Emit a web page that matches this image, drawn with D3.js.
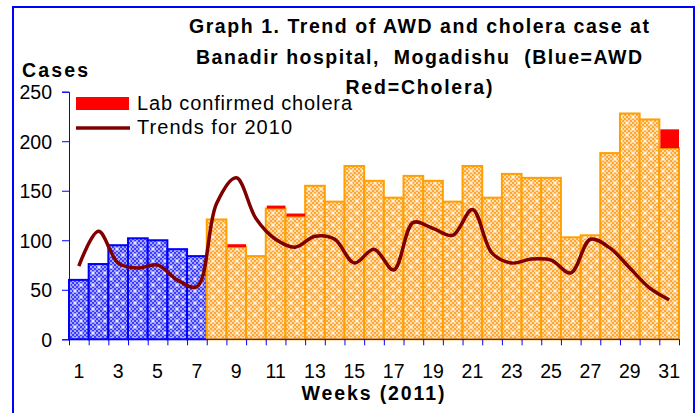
<!DOCTYPE html>
<html>
<head>
<meta charset="utf-8">
<script src="https://cdn.jsdelivr.net/npm/d3@7"></script>
<style>
  body { margin: 0; background: #fff; }
  text { font-family: 'Liberation Sans', Arial, sans-serif; }
</style>
</head>
<body>
<div id="chart"></div>
<script>
// weeks of 2011
var weeks = d3.range(1, 32);
// total AWD cases per week (bar height incl. cholera)
var totalCases = [60, 76, 95, 102, 100, 91, 84, 121, 96, 84, 135, 127, 155, 139, 175, 160,
	143, 165, 160, 139, 175, 143, 167, 163, 163, 103, 105, 188, 228, 222, 212];
// lab confirmed cholera (red top of bar)
var cholera = [0, 0, 0, 0, 0, 0, 0, 0, 3, 0, 3, 3, 0, 0, 0, 0,
	0, 0, 0, 0, 0, 0, 0, 0, 0, 0, 0, 0, 0, 0, 19];
// trend line for 2010
var trend2010 = [74, 109, 77, 72, 75, 60, 53, 137, 163, 122, 101, 93, 104, 101, 77, 91,
	70, 118, 112, 105, 131, 87, 77, 81, 80, 67, 101, 92, 72, 52, 40];
var blueWeeks = 7; // first weeks drawn in blue
var yTicks = [0, 50, 100, 150, 200, 250];
var xLabels = d3.range(1, 32, 2);

var width = 697;
var height = 413;

var svg = d3.select('#chart')
	.append('svg')
	.attr('width', width)
	.attr('height', height);

/* patterns: 2px checker dither + white sparkles */
var defs = svg.append('defs');
function makePattern(id, dark, light) {
	var p = defs.append('pattern')
		.attr('id', id)
		.attr('patternUnits', 'userSpaceOnUse')
		.attr('width', 12)
		.attr('height', 12);
	p.append('rect').attr('width', 12).attr('height', 12).attr('fill', dark);
	for (var i = 0; i < 6; i++) {
		for (var j = 0; j < 6; j++) {
			if ((i + j) % 2 === 0) {
				p.append('rect').attr('x', i * 2).attr('y', j * 2).attr('width', 2).attr('height', 2).attr('fill', light);
			}
		}
	}
	[[3, 3], [9, 9]].forEach(function(c) {
		p.append('path')
			.attr('d', `M${c[0] - 2},${c[1]}h4M${c[0]},${c[1] - 2}v4`)
			.attr('stroke', '#fff')
			.attr('stroke-width', 1);
	});
}
makePattern('blueFill', '#3c3cff', '#a8a8ff');
makePattern('orangeFill', '#ffa530', '#ffdcaa');

/* frame */
svg.append('rect')
	.attr('x', 13).attr('y', 7)
	.attr('width', 681).attr('height', 430)
	.attr('fill', 'none')
	.attr('stroke', '#0000ff')
	.attr('stroke-width', 2);

/* scales */
var x = d3.scaleBand().domain(weeks).range([69, 679]).padding(0);
var xLin = d3.scaleLinear().domain([0.5, 31.5]).range([69, 679]);
var y = d3.scaleLinear().domain([0, 250]).range([339.3, 91.7]);

/* bars */
var bars = svg.append('g').attr('class', 'bars');
bars.selectAll('rect.bar')
	.data(weeks)
	.enter()
	.append('rect')
	.attr('class', 'bar')
	.attr('x', d => x(d))
	.attr('width', x.bandwidth())
	.attr('y', (d, i) => y(totalCases[i] - cholera[i]))
	.attr('height', (d, i) => y(0) - y(totalCases[i] - cholera[i]))
	.attr('fill', (d, i) => i < blueWeeks ? 'url(#blueFill)' : 'url(#orangeFill)')
	.attr('stroke', (d, i) => i < blueWeeks ? '#0000ff' : '#ffa000')
	.attr('stroke-width', 2);

bars.selectAll('rect.chol')
	.data(weeks.filter((d, i) => cholera[i] > 0))
	.enter()
	.append('rect')
	.attr('class', 'chol')
	.attr('x', d => x(d) + 1)
	.attr('width', x.bandwidth() - 1)
	.attr('y', d => y(totalCases[d - 1]))
	.attr('height', d => y(0) - y(cholera[d - 1]))
	.attr('fill', '#ff0000');

/* axes */
var yAxis = d3.axisLeft(y).tickValues(yTicks).tickSize(7).tickPadding(10);
var gy = svg.append('g')
	.attr('transform', 'translate(69,0)')
	.call(yAxis);
gy.select('.domain').attr('stroke', '#0000ff');
gy.selectAll('.tick line').attr('stroke', '#0000ff');
gy.selectAll('.tick text')
	.attr('fill', '#000')
	.style('font-size', '19.5px')
	.attr('dy', '0.35em');

var xAxis = d3.axisBottom(xLin).tickValues(d3.range(0.5, 32, 1)).tickSize(6).tickFormat('');
var gx = svg.append('g')
	.attr('transform', `translate(0,${y(0)})`)
	.call(xAxis);
gx.select('.domain').attr('stroke', '#0000ff').attr('d', `M69,0H679`);
gx.selectAll('.tick line').attr('stroke', '#0000ff');

svg.append('g')
	.selectAll('text')
	.data(xLabels)
	.enter()
	.append('text')
	.attr('x', d => x(d) + x.bandwidth() / 2)
	.attr('y', 378)
	.attr('text-anchor', 'middle')
	.style('font-size', '19.5px')
	.text(d => d);

/* trend line */
var line = d3.line()
	.x((d, i) => x(weeks[i]) + x.bandwidth() / 2)
	.y(d => y(d))
	.curve(d3.curveCatmullRom.alpha(0.5));

svg.append('path')
	.attr('d', line(trend2010))
	.attr('fill', 'none')
	.attr('stroke', '#800000')
	.attr('stroke-width', 3.5);

/* legend */
svg.append('rect')
	.attr('x', 76).attr('y', 97)
	.attr('width', 53).attr('height', 13)
	.attr('fill', '#ff0000');
svg.append('text')
	.attr('x', 137).attr('y', 110)
	.attr('textLength', 215)
	.attr('lengthAdjust', 'spacing')
	.style('font-size', '20px')
	.text('Lab confirmed cholera');
svg.append('line')
	.attr('x1', 76).attr('x2', 130)
	.attr('y1', 128).attr('y2', 128)
	.attr('stroke', '#800000')
	.attr('stroke-width', 3.5);
svg.append('text')
	.attr('x', 137).attr('y', 134)
	.attr('textLength', 155)
	.attr('lengthAdjust', 'spacing')
	.style('font-size', '20px')
	.text('Trends for 2010');

/* titles */
var title = ['Graph 1. Trend of AWD and cholera case at',
	'Banadir hospital,  Mogadishu  (Blue=AWD',
	'Red=Cholera)'];
var titleWidths = [460, 446, 147];
svg.append('g')
	.selectAll('text')
	.data(title)
	.enter()
	.append('text')
	.attr('x', 419)
	.attr('y', (d, i) => 33 + i * 30.5)
	.attr('text-anchor', 'middle')
	.attr('textLength', (d, i) => titleWidths[i])
	.attr('lengthAdjust', 'spacing')
	.style('font-size', '19.5px')
	.style('font-weight', 'bold')
	.style('white-space', 'pre')
	.text(d => d);

svg.append('text')
	.attr('x', 22).attr('y', 77)
	.attr('textLength', 66)
	.attr('lengthAdjust', 'spacing')
	.style('font-size', '19.5px')
	.style('font-weight', 'bold')
	.text('Cases');

svg.append('text')
	.attr('x', 373).attr('y', 400)
	.attr('text-anchor', 'middle')
	.attr('textLength', 143)
	.attr('lengthAdjust', 'spacing')
	.style('font-size', '19.5px')
	.style('font-weight', 'bold')
	.text('Weeks (2011)');
</script>
</body>
</html>
